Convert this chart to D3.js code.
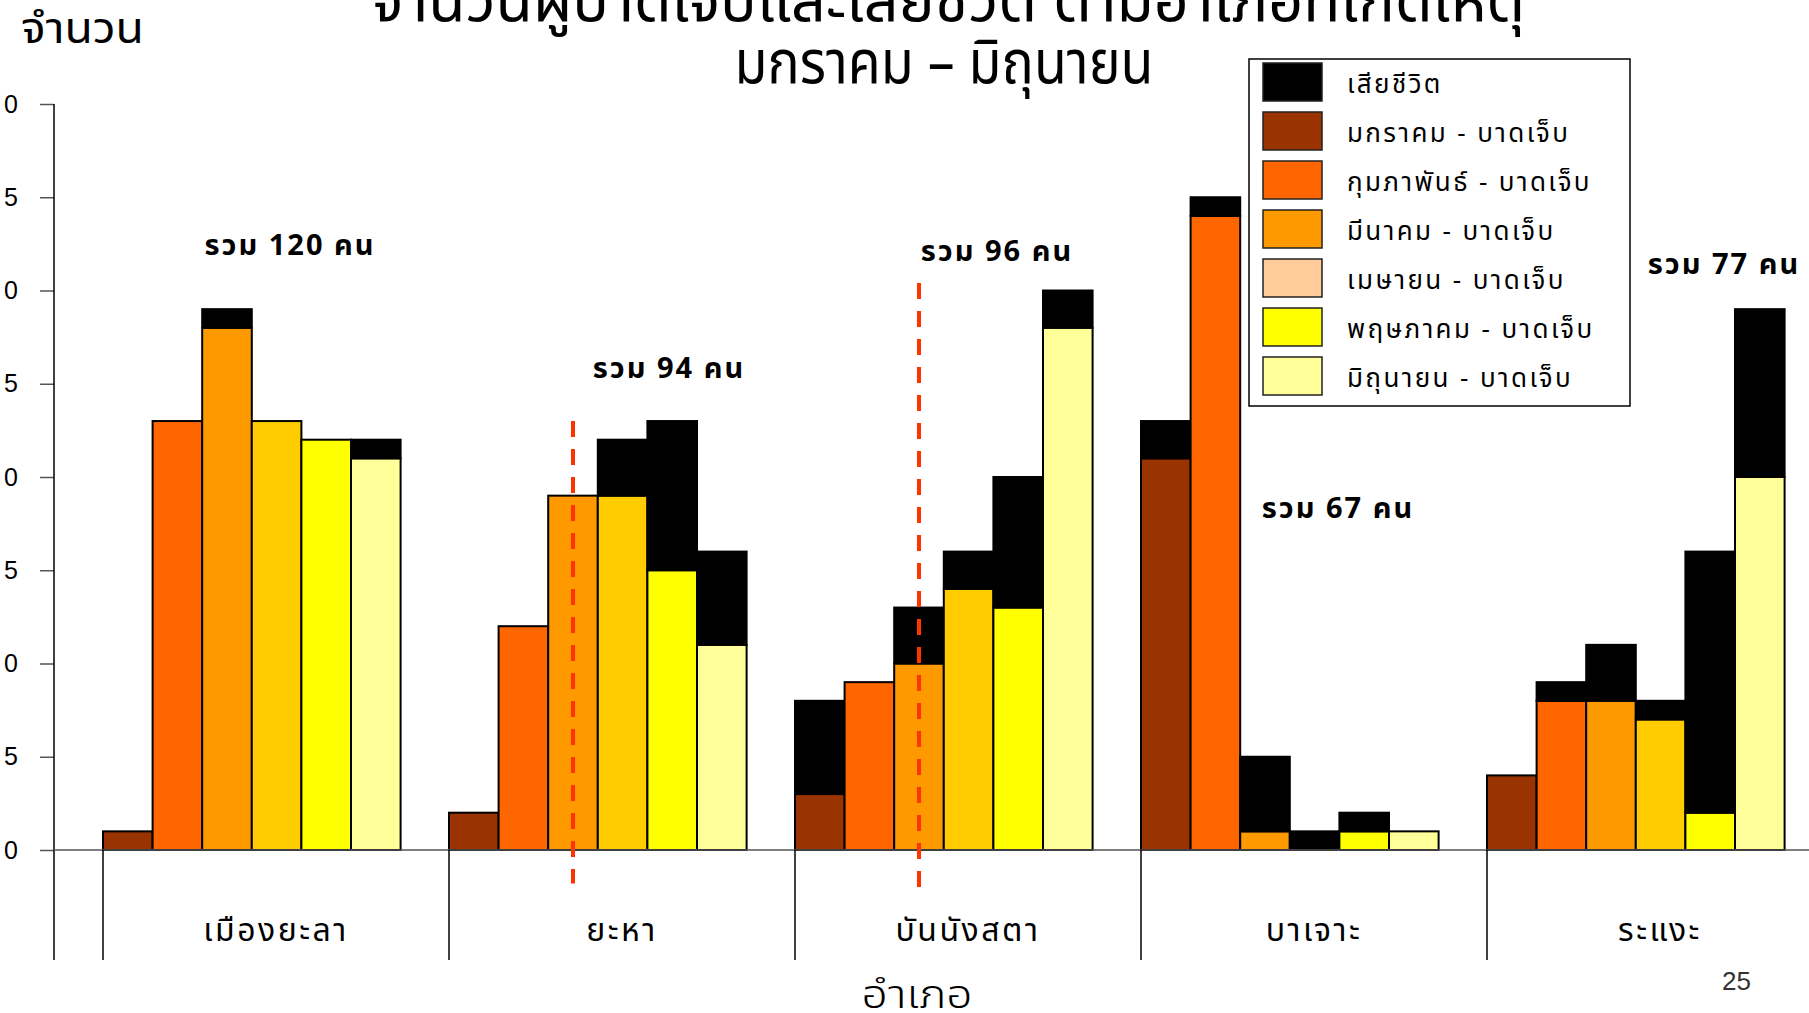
<!DOCTYPE html>
<html>
<head>
<meta charset="utf-8" />
<title>จำนวนผู้บาดเจ็บและเสียชีวิต ตามอำเภอที่เกิดเหตุ</title>
<script src="https://d3js.org/d3.v7.min.js"></script>
<style>
    body {
        margin: 0;
        background-color: #ffffff;
    }
    svg text {
        font-family: 'Noto Sans Thai', 'Noto Sans', sans-serif;
    }
</style>
</head>
<body>

<svg id="chart">
    <g id="bars"></g>
    <g id="y"></g>
    <g id="x"></g>
    <g id="notes"></g>
    <g id="legend"></g>
</svg>

<script>
    // districts and months
    var districts = ["เมืองยะลา", "ยะหา", "บันนังสตา", "บาเจาะ", "ระแงะ"];
    var months = ["มกราคม", "กุมภาพันธ์", "มีนาคม", "เมษายน", "พฤษภาคม", "มิถุนายน"];

    // injured per month, one array per district
    var injuredMuang     = [1, 23, 28, 23, 22, 21];
    var injuredYaha      = [2, 12, 19, 19, 15, 11];
    var injuredBannang   = [3, 9, 10, 14, 13, 28];
    var injuredBacho     = [21, 34, 1, 0, 1, 1];
    var injuredRaengae   = [4, 8, 8, 7, 2, 20];

    // deaths per month, one array per district
    var deathsMuang      = [0, 0, 1, 0, 0, 1];
    var deathsYaha       = [0, 0, 0, 3, 8, 5];
    var deathsBannang    = [5, 0, 3, 2, 7, 2];
    var deathsBacho      = [2, 1, 4, 1, 1, 0];
    var deathsRaengae    = [0, 1, 3, 1, 14, 9];

    var yTicks = [0, 5, 10, 15, 20, 25, 30, 35, 40];

    var injured = [injuredMuang, injuredYaha, injuredBannang, injuredBacho, injuredRaengae];
    var deaths = [deathsMuang, deathsYaha, deathsBannang, deathsBacho, deathsRaengae];

    var monthColors = ["#993300", "#FF6600", "#FF9900", "#FFCC00", "#FFFF00", "#FFFF99"];
    var legendColors = ["#000000", "#993300", "#FF6600", "#FF9900", "#FFCC99", "#FFFF00", "#FFFF99"];

    var width = 1809;
    var height = 1013;

    var svg = d3.select("#chart")
        .attr("width", width)
        .attr("height", height);

    var x = d3.scaleBand()
        .domain(districts)
        .range([103, 1833]);

    var xm = d3.scaleBand()
        .domain(months)
        .range([0, 297.6]);

    var y = d3.scaleLinear()
        .domain([0, 40])
        .range([850, 104]);

    var axisX = 54;
    var axisBottom = 960;

    // build one row per bar
    var rows = [];
    districts.forEach(function(d, i) {
        months.forEach(function(m, j) {
            rows.push({
                district: d,
                month: m,
                color: monthColors[j],
                injured: injured[i][j],
                deaths: deaths[i][j]
            });
        });
    });

    // zero line
    svg.select("#x").append("line")
        .attr("x1", axisX).attr("x2", width)
        .attr("y1", y(0)).attr("y2", y(0))
        .attr("stroke", "#555").attr("stroke-width", 1.5);

    var bars = svg.select("#bars").selectAll("g.bar")
        .data(rows)
        .enter().append("g")
        .attr("class", "bar")
        .attr("transform", function(d) {
            return "translate(" + (x(d.district) + xm(d.month)) + ",0)";
        });

    bars.filter(function(d) { return d.injured > 0; })
        .append("rect")
        .attr("width", xm.bandwidth())
        .attr("y", function(d) { return y(d.injured); })
        .attr("height", function(d) { return y(0) - y(d.injured); })
        .style("fill", function(d) { return d.color; })
        .style("stroke", "#000")
        .style("stroke-width", 2);

    bars.filter(function(d) { return d.deaths > 0; })
        .append("rect")
        .attr("width", xm.bandwidth())
        .attr("y", function(d) { return y(d.injured + d.deaths); })
        .attr("height", function(d) { return y(d.injured) - y(d.injured + d.deaths); })
        .style("fill", "#000")
        .style("stroke", "#000")
        .style("stroke-width", 2);

    // y axis (labels pushed so only the last digit shows, as on the slide)
    var yAxis = d3.axisLeft(y)
        .tickValues(yTicks)
        .tickSize(14)
        .tickPadding(18);

    svg.select("#y")
        .attr("transform", "translate(" + axisX + ",0)")
        .call(yAxis)
        .call(function(g) { g.select(".domain").remove(); })
        .attr("font-size", "25px");

    svg.select("#y").selectAll(".tick line").attr("stroke", "#555").attr("stroke-width", 1.5);
    svg.select("#y").selectAll(".tick text")
        .style("font-family", "'Liberation Sans', Arial, sans-serif")
        .style("letter-spacing", "4px")
        .attr("fill", "#000");

    svg.select("#y").append("line")
        .attr("x1", 0).attr("x2", 0)
        .attr("y1", y(40)).attr("y2", axisBottom)
        .attr("stroke", "#000").attr("stroke-width", 1.5);

    // district separators and labels
    var xg = svg.select("#x");
    xg.selectAll("line.sep")
        .data(districts)
        .enter().append("line")
        .attr("class", "sep")
        .attr("x1", function(d) { return x(d); })
        .attr("x2", function(d) { return x(d); })
        .attr("y1", y(0))
        .attr("y2", axisBottom)
        .attr("stroke", "#000").attr("stroke-width", 1.5);

    xg.selectAll("text.cat")
        .data(districts)
        .enter().append("text")
        .attr("class", "cat")
        .attr("x", function(d) { return x(d) + x.bandwidth() / 2; })
        .attr("y", 941)
        .attr("text-anchor", "middle")
        .attr("font-size", "32px")
        .style("letter-spacing", "2.5px")
        .text(function(d) { return d; });

    // titles
    svg.append("text")
        .attr("x", 948).attr("y", 21)
        .attr("text-anchor", "middle")
        .attr("font-size", "60px")
        .attr("textLength", 1154)
        .attr("lengthAdjust", "spacingAndGlyphs")
        .text("จำนวนผู้บาดเจ็บและเสียชีวิต ตามอำเภอที่เกิดเหตุ");

    svg.append("text")
        .attr("x", 944).attr("y", 83)
        .attr("text-anchor", "middle")
        .attr("font-size", "60px")
        .attr("textLength", 419)
        .attr("lengthAdjust", "spacingAndGlyphs")
        .text("มกราคม – มิถุนายน");

    svg.append("text")
        .attr("x", 21).attr("y", 43)
        .attr("font-size", "42px")
        .attr("textLength", 123)
        .attr("lengthAdjust", "spacingAndGlyphs")
        .text("จำนวน");

    svg.append("text")
        .attr("x", 917).attr("y", 1008)
        .attr("text-anchor", "middle")
        .attr("font-size", "40px")
        .attr("font-weight", 300)
        .attr("textLength", 111)
        .attr("lengthAdjust", "spacingAndGlyphs")
        .text("อำเภอ");

    svg.append("text")
        .attr("x", 1751).attr("y", 990)
        .attr("text-anchor", "end")
        .attr("font-size", "26px")
        .attr("fill", "#333")
        .style("font-family", "'Liberation Sans Narrow', 'Liberation Sans', sans-serif")
        .text("25");

    // totals per district
    var totalSpots = [
        { dx: 187, v: 31.9 },
        { dx: 220, v: 25.3 },
        { dx: 202, v: 31.6 },
        { dx: 197, v: 17.8 },
        { dx: 237, v: 30.9 }
    ];

    var notes = svg.select("#notes");
    notes.selectAll("text.total")
        .data(districts)
        .enter().append("text")
        .attr("class", "total")
        .attr("x", function(d, i) { return x(d) + totalSpots[i].dx; })
        .attr("y", function(d, i) { return y(totalSpots[i].v); })
        .attr("text-anchor", "middle")
        .attr("font-size", "29px")
        .attr("font-weight", "bold")
        .style("letter-spacing", "2px")
        .text(function(d, i) {
            return "รวม " + (d3.sum(injured[i]) + d3.sum(deaths[i])) + " คน";
        });

    // red dashed markers on the March bars
    var markers = [
        { district: "ยะหา", top: 23, bottom: -1.8 },
        { district: "บันนังสตา", top: 30.4, bottom: -2 }
    ];
    notes.selectAll("line.mark")
        .data(markers)
        .enter().append("line")
        .attr("class", "mark")
        .attr("x1", function(d) { return x(d.district) + xm("มีนาคม") + xm.bandwidth() / 2; })
        .attr("x2", function(d) { return x(d.district) + xm("มีนาคม") + xm.bandwidth() / 2; })
        .attr("y1", function(d) { return y(d.top); })
        .attr("y2", function(d) { return y(d.bottom); })
        .attr("stroke", "#FF3300")
        .attr("stroke-width", 4)
        .attr("stroke-dasharray", "16,12");

    // legend
    var legendLabels = ["เสียชีวิต"].concat(months.map(function(m) { return m + " - บาดเจ็บ"; }));

    var legend = svg.select("#legend").attr("transform", "translate(1249,59)");
    legend.append("rect")
        .attr("width", 381).attr("height", 347)
        .attr("fill", "#fff").attr("stroke", "#000").attr("stroke-width", 1.5);

    var items = legend.selectAll("g.item")
        .data(legendLabels)
        .enter().append("g")
        .attr("class", "item")
        .attr("transform", function(d, i) { return "translate(14," + (4 + i * 49) + ")"; });

    items.append("rect")
        .attr("width", 59).attr("height", 38)
        .style("fill", function(d, i) { return legendColors[i]; })
        .style("stroke", "#222").style("stroke-width", 1.5);

    items.append("text")
        .attr("x", 84).attr("y", 30)
        .attr("font-size", "26px")
        .style("letter-spacing", "2.4px")
        .text(function(d) { return d; });
</script>
</body>
</html>
